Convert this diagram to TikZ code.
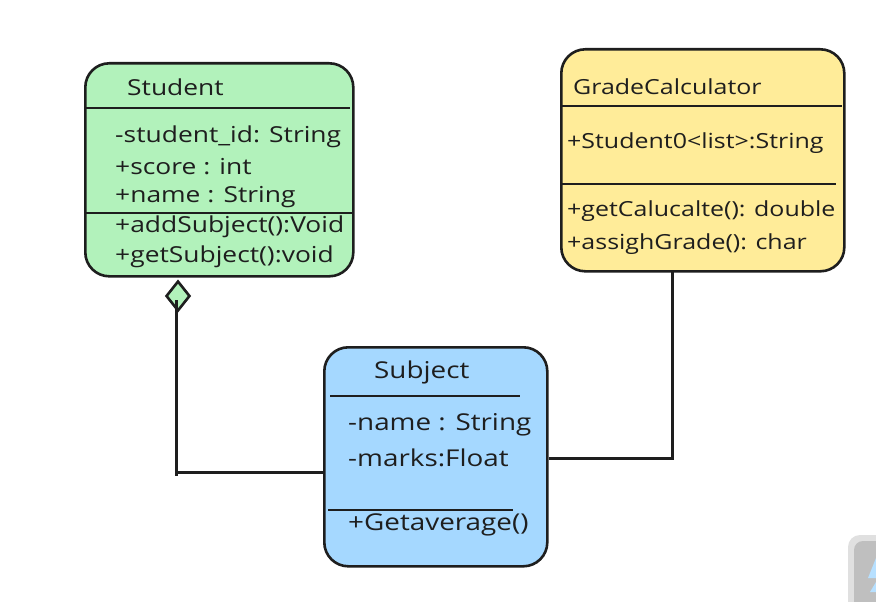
\documentclass[tikz,border=0pt]{standalone}
\usepackage{fontspec}
\setmainfont[FakeStretch=1.2]{Open Sans}
\usetikzlibrary{shapes.geometric}
\definecolor{stgreen}{HTML}{B2F2BB}
\definecolor{gcyellow}{HTML}{FFEC99}
\definecolor{sjblue}{HTML}{A5D8FF}
\definecolor{ink}{HTML}{1E1E1E}
\tikzset{
  cls/.style={draw=ink, line width=2.6pt, rounded corners=24pt, anchor=north west, inner sep=0pt},
  div/.style={draw=ink, line width=2.8pt},
  conn/.style={draw=ink, line width=3pt},
  txt/.style={anchor=west, inner sep=0pt, font=\fontsize{22}{26}\selectfont, text=ink},
  gtxt/.style={txt, font=\fontsize{20.8}{25}\selectfont},
  jtxt/.style={txt, font=\fontsize{23.2}{27}\selectfont},
}
\begin{document}
\begin{tikzpicture}[x=1pt,y=-1pt]
\clip (0,0) rectangle (876,602);
\fill[white] (0,0) rectangle (876,602);

% corner artifact
\fill[black!12, rounded corners=12pt] (848,535) rectangle (910,640);
\fill[black!25, rounded corners=9pt] (854,541) rectangle (910,640);
\fill[sjblue!80] (876,558) -- (868,578) -- (876,578) -- cycle;
\fill[sjblue!80] (876,582) -- (870,592) -- (876,592) -- cycle;

% Student
\node[cls, fill=stgreen, minimum width=268pt, minimum height=213pt] (student) at (84,62) {};
\draw[div] (85,108) -- (350,108);
\draw[div] (85,213) -- (352,213);
\node[txt] (s0) at (127,87) {Student};
\node[txt] (s1) at (115,137) {-student\_id: String};
\node[txt] (s2) at (115,167) {+score : int};
\node[txt] (s3) at (115,197) {+name : String};
\node[txt] (s4) at (115,227) {+addSubject():Void};
\node[txt] (s5) at (115,257) {+getSubject():void};

% GradeCalculator
\node[cls, fill=gcyellow, minimum width=283pt, minimum height=222pt] (gc) at (560,48) {};
\draw[div] (561,106) -- (842,106);
\draw[div] (561,184) -- (836,184);
\node[gtxt] (g0) at (573,87) {GradeCalculator};
\node[gtxt] (g1) at (567,143) {+Student0<list>:String};
\node[gtxt] (g2) at (567,211) {+getCalucalte(): double};
\node[gtxt] (g3) at (567,244) {+assighGrade(): char};

% Subject
\node[cls, fill=sjblue, minimum width=223pt, minimum height=219pt] (subject) at (323,346) {};
\draw[div] (330,396) -- (520,396);
\draw[div] (328,510) -- (513,510);
\node[jtxt] (j0) at (374,372) {Subject};
\node[jtxt] (j1) at (348,425) {-name : String};
\node[jtxt] (j2) at (348,458) {-marks:Float};
\node[jtxt] (j3) at (348,525) {+Getaverage()};

% connectors
\coordinate (aggtop) at (176,300);
\coordinate (sjl) at (subject.west |- 0,472);
\coordinate (gcb) at (672,270);
\coordinate (sjr) at (subject.east |- 0,458);
\draw[conn] (aggtop) -- (176,472) -- (sjl);
\draw[conn] (176,470) -- (176,476);
\draw[conn] (gcb) |- (sjr);
\node[diamond, draw=ink, line width=2.6pt, fill=stgreen, minimum width=24pt, minimum height=30pt, inner sep=0pt, aspect=0.8] (agg) at (178,296) {};
\draw[conn] (agg.center) ++(-2,4) -- (aggtop |- agg.south);
\end{tikzpicture}
\end{document}
